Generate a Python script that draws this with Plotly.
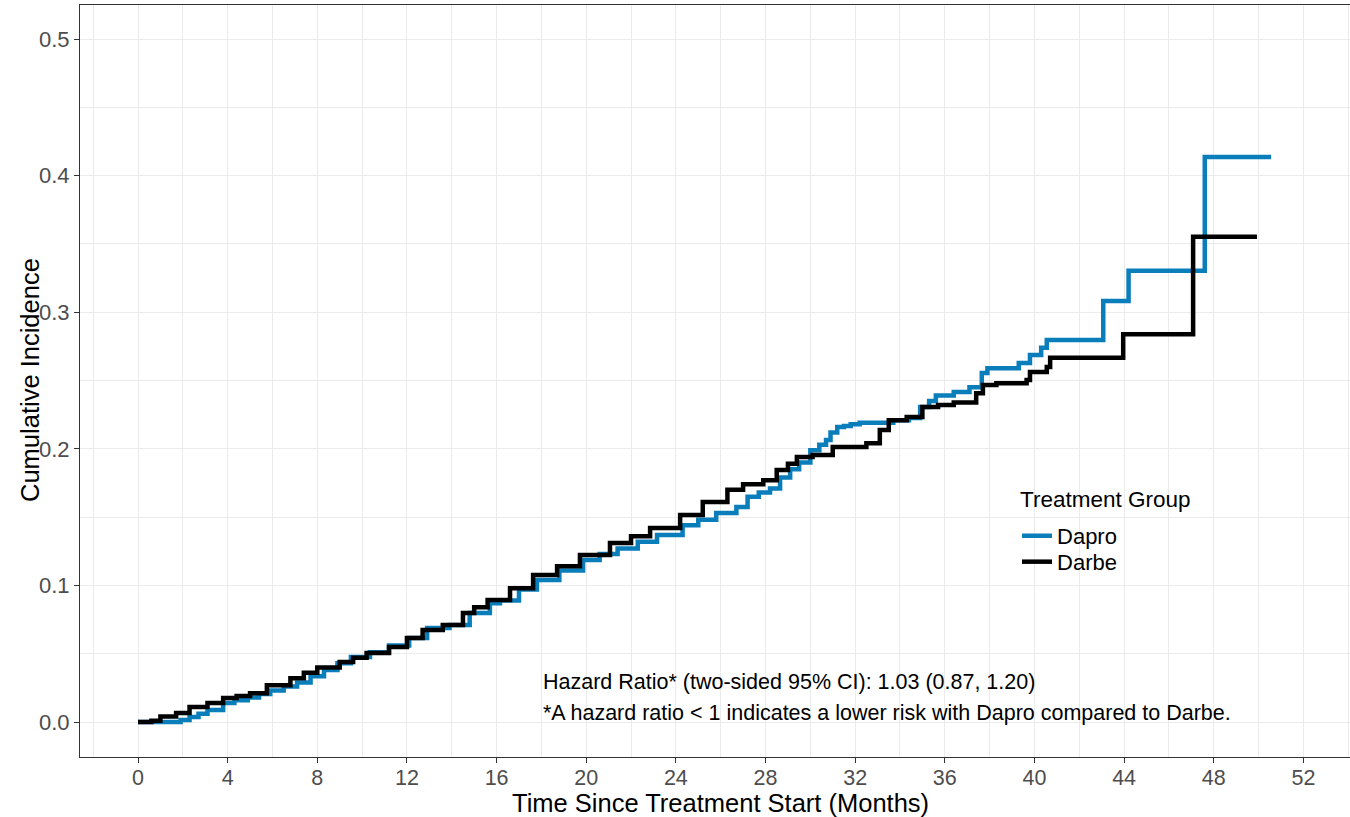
import plotly.graph_objects as go

# ---- data ----
dapro_t = [0, 1.9, 2.3, 2.7, 3.1, 3.8, 4.3, 4.9, 5.4, 5.9, 6.5, 7.1, 7.7, 8.3, 8.9, 9.5,
           10.35, 11.2, 12.1, 12.9, 13.9, 14.8, 15.7, 16.15, 17.0, 17.8, 18.8, 19.86, 20.6,
           21.4, 22.3, 23.16, 24.3, 25.0, 25.8, 26.7, 27.2, 27.7, 28.2, 28.65, 29.1, 29.5,
           30.0, 30.4, 30.7, 30.9, 31.2, 31.5, 31.8, 32.2, 33.7, 34.4, 34.9, 35.3, 35.6,
           36.4, 37.1, 37.65, 37.9, 39.3, 39.8, 40.3, 40.55, 43.07, 44.2, 47.6, 50.56]
dapro_v = [0, 0.0015, 0.0037, 0.006, 0.0088, 0.0139, 0.016, 0.018, 0.0205, 0.023, 0.026,
           0.029, 0.0335, 0.038, 0.043, 0.0476, 0.051, 0.056, 0.0615, 0.0688, 0.071, 0.0798,
           0.087, 0.089, 0.097, 0.104, 0.111, 0.1186, 0.123, 0.127, 0.132, 0.137, 0.144,
           0.148, 0.153, 0.1575, 0.165, 0.168, 0.171, 0.179, 0.185, 0.190, 0.199, 0.203,
           0.2064, 0.212, 0.216, 0.2167, 0.218, 0.219, 0.221, 0.2225, 0.2306, 0.235, 0.239,
           0.2416, 0.245, 0.2555, 0.259, 0.2628, 0.2687, 0.274, 0.2797, 0.3082, 0.3304,
           0.4136, 0.4136]

darbe_t = [0, 0.6, 1.0, 1.7, 2.3, 3.1, 3.8, 4.4, 5.0, 5.75, 6.8, 7.4, 8.0, 9.0, 9.6, 10.2,
           11.2, 12.0, 12.7, 13.6, 14.5, 15.0, 15.6, 16.6, 17.63, 18.7, 19.72, 21.06, 22.0,
           22.85, 24.19, 25.2, 26.3, 27.0, 27.9, 28.5, 29.0, 29.4, 30.1, 31.0, 32.5, 33.1,
           33.5, 34.3, 35.0, 35.7, 36.4, 37.4, 37.7, 38.3, 39.65, 39.8, 40.55, 40.7, 43.96,
           47.08, 49.93]
darbe_v = [0, 0.001, 0.004, 0.0066, 0.011, 0.0139, 0.0175, 0.019, 0.021, 0.027, 0.032,
           0.036, 0.040, 0.0439, 0.047, 0.0505, 0.055, 0.0615, 0.0673, 0.071, 0.0798, 0.084,
           0.0893, 0.098, 0.1076, 0.114, 0.1222, 0.131, 0.136, 0.142, 0.1515, 0.161, 0.170,
           0.174, 0.177, 0.1845, 0.189, 0.194, 0.1955, 0.2013, 0.204, 0.2138, 0.221, 0.2233,
           0.2306, 0.232, 0.234, 0.2407, 0.2467, 0.248, 0.2504, 0.2562, 0.2599, 0.2667,
           0.2838, 0.3553, 0.3553]

x_ticks = list(range(0, 53, 4))
y_ticks = [0.0, 0.1, 0.2, 0.3, 0.4, 0.5]
y_tick_labels = ["0.0", "0.1", "0.2", "0.3", "0.4", "0.5"]

hr_line1 = "Hazard Ratio* (two-sided 95% CI): 1.03 (0.87, 1.20)"
hr_line2 = "*A hazard ratio < 1 indicates a lower risk with Dapro compared to Darbe."

BLUE = "#0A7DBB"
FONT = "Liberation Sans, Arial, sans-serif"

fig = go.Figure()
fig.add_trace(go.Scatter(x=dapro_t, y=dapro_v, mode="lines", name="Dapro", legend="legend",
                         line=dict(color=BLUE, width=4.5, shape="hv")))
fig.add_trace(go.Scatter(x=darbe_t, y=darbe_v, mode="lines", name="Darbe", legend="legend2",
                         line=dict(color="black", width=4.5, shape="hv")))

fig.add_annotation(x=18, y=0.0293, xref="x", yref="y", text=hr_line1, showarrow=False,
                   xanchor="left", yanchor="middle", font=dict(size=21.5, color="black", family=FONT))
fig.add_annotation(x=18, y=0.0066, xref="x", yref="y", text=hr_line2, showarrow=False,
                   xanchor="left", yanchor="middle", font=dict(size=21.5, color="black", family=FONT))

# axis titles
fig.add_annotation(x=0.5047, y=-0.0618, xref="paper", yref="paper",
                   text="Time Since Treatment Start (Months)", showarrow=False,
                   xanchor="center", yanchor="middle", font=dict(size=25.5, color="black", family=FONT))
fig.add_annotation(x=-0.0394, y=0.5013, xref="paper", yref="paper",
                   text="Cumulative Incidence", showarrow=False, textangle=-90,
                   xanchor="center", yanchor="middle", font=dict(size=25.5, color="black", family=FONT))

# legend background box and title
fig.add_shape(type="rect", xref="paper", yref="paper", x0=0.7283, x1=0.8819, y0=0.2354, y1=0.3644,
              fillcolor="white", line=dict(width=0), layer="between")
fig.add_annotation(x=0.7386, y=0.3418, xref="paper", yref="paper", text="Treatment Group",
                   showarrow=False, xanchor="left", yanchor="middle",
                   font=dict(size=22.5, color="black", family=FONT))

legend_common = dict(xanchor="left", yanchor="top", bgcolor="rgba(0,0,0,0)", borderwidth=0,
                     font=dict(size=22, color="black", family=FONT), itemwidth=30)

fig.update_layout(
    width=1350, height=817,
    margin=dict(l=80, r=0, t=5, b=60),
    paper_bgcolor="white", plot_bgcolor="white",
    font=dict(family=FONT),
    showlegend=True,
    legend=dict(x=0.7378, y=0.322, **legend_common),
    legend2=dict(x=0.7378, y=0.2874, **legend_common),
    xaxis=dict(range=[-2.588, 54.08], tickmode="array", tickvals=x_ticks,
               ticktext=[str(v) for v in x_ticks],
               showgrid=True, gridcolor="#EBEBEB", gridwidth=1.1,
               minor=dict(tick0=0, dtick=2, showgrid=True, gridcolor="#EBEBEB", gridwidth=0.6),
               zeroline=False, showline=True, linecolor="#333333", linewidth=1, mirror=True,
               ticks="outside", ticklen=5, tickcolor="#333333", tickwidth=1,
               ticklabelstandoff=-4,
               tickfont=dict(size=21.5, color="#4D4D4D", family=FONT)),
    yaxis=dict(range=[-0.0256, 0.5249], tickmode="array", tickvals=y_ticks,
               ticktext=y_tick_labels,
               showgrid=True, gridcolor="#EBEBEB", gridwidth=1.1,
               minor=dict(tick0=0, dtick=0.05, showgrid=True, gridcolor="#EBEBEB", gridwidth=0.6),
               zeroline=False, showline=True, linecolor="#333333", linewidth=1, mirror=False,
               ticks="outside", ticklen=5, tickcolor="#333333", tickwidth=1,
               tickfont=dict(size=22, color="#4D4D4D", family=FONT)),
)

fig.write_html("out.html", config={"displayModeBar": False},
               post_script="document.body.style.margin='0';")
